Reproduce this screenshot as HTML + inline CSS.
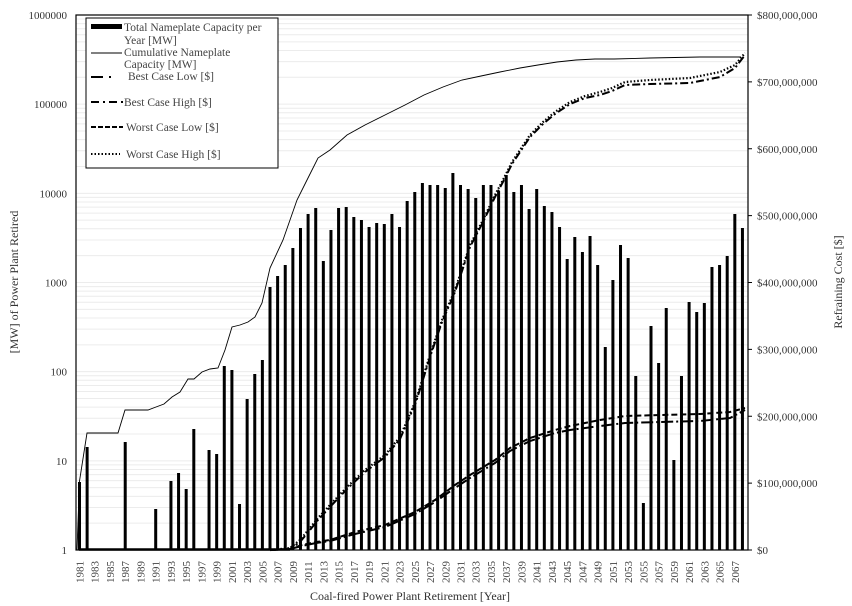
<!DOCTYPE html>
<html><head><meta charset="utf-8">
<style>
html,body{margin:0;padding:0;background:#fff;}
svg{display:block;font-family:"Liberation Serif",serif;}
</style></head>
<body>
<svg id="s" width="852" height="606" viewBox="0 0 852 606" xmlns="http://www.w3.org/2000/svg">
<g id="grid" stroke="#ececec" stroke-width="1"></g>
<g id="bars" fill="#000"></g>
<polyline fill="none" stroke="#000" stroke-width="0.9" points="77,550 79.5,481 87,433 118,433 125,410 148,410 156,407 164,404 172,397 180,392 188,379 194,379 202,372 210,369 218,368 225,350 232,327 240,325 248,322 255,317 262,303 270,268 283,240 297,200 307,180 318,158 330,150 347,135 365,125 385,115 405,105 424,95 443,87 462,80 481,76 500,72 520,68 538,65 557,62 576,60 595,59 614,59 650,58 700,57 741,57"/>
<line x1="79" y1="549.5" x2="290" y2="549.5" stroke="#000" stroke-width="2.5"/>
<polyline fill="none" stroke="#000" stroke-width="2.2" stroke-dasharray="1.5,2" points="270,550 290,548 300,540 310,528 318,518 330,505 347,487 365,470 385,455 400,437 416,400 430,355 442,320 455,290 470,245 483,220 495,195 504,178 512,162 520,150 530,135 543,122 555,112 570,102 585,96 600,92 612,88 625,82 650,80 690,78 720,72 735,65 745,53"/>
<polyline fill="none" stroke="#000" stroke-width="2" stroke-dasharray="8,3,2,3" points="270,550 290,549 300,542 310,530 318,520 330,507 347,489 365,472 385,457 400,439 416,402 430,357 442,322 455,292 470,247 483,222 495,197 504,180 512,164 520,152 530,137 543,124 555,114 570,104 585,98 600,95 612,91 625,85 650,84 690,83 720,77 735,68 745,55"/>
<polyline fill="none" stroke="#000" stroke-width="2" stroke-dasharray="6,3" points="270,550 290,549 302,545 316,542 330,540 355,532 385,525 415,512 435,500 455,485 470,475 495,460 510,448 530,438 555,430 570,426 600,420 625,416 660,415 700,414 730,412 745,408"/>
<polyline fill="none" stroke="#000" stroke-width="2" stroke-dasharray="12,3,2,3" points="270,550 290,549 302,546 316,543 330,541 355,534 385,527 415,514 435,502 455,488 470,478 495,463 510,451 530,441 555,433 570,430 600,426 625,423 660,422 700,421 730,418 745,410"/>
<rect x="76" y="15" width="672" height="535" fill="none" stroke="#000" stroke-width="1.2"/>
<g id="lt" font-size="11" fill="#333" text-anchor="end"></g>
<g id="rt" font-size="11" fill="#333"></g>
<g id="xt" font-size="11" fill="#444"></g>
<text x="410" y="600" font-size="12" fill="#333" text-anchor="middle">Coal-fired Power Plant Retirement [Year]</text>
<text transform="translate(18,282) rotate(-90)" font-size="12" fill="#333" text-anchor="middle">[MW] of Power Plant Retired</text>
<text transform="translate(842,282) rotate(-90)" font-size="12" fill="#333" text-anchor="middle">Refraining Cost [$]</text>
<rect x="86" y="18" width="192" height="150" fill="#fff" stroke="#000" stroke-width="1"/>
<g font-size="11.5" fill="#444">
<rect x="91" y="24" width="31" height="5" fill="#000"/>
<text x="124" y="31">Total Nameplate Capacity per</text>
<text x="124" y="44">Year [MW]</text>
<line x1="91" y1="53" x2="122" y2="53" stroke="#000" stroke-width="1"/>
<text x="124" y="56">Cumulative Nameplate</text>
<text x="124" y="68">Capacity [MW]</text>
<line x1="91" y1="77" x2="122" y2="77" stroke="#000" stroke-width="2" stroke-dasharray="12,6,2,20"/>
<text x="128" y="80">Best Case Low [$]</text>
<line x1="91" y1="102" x2="123" y2="102" stroke="#000" stroke-width="2" stroke-dasharray="8,4,2,4"/>
<text x="124" y="106">Best Case High [$]</text>
<line x1="91" y1="127" x2="123" y2="127" stroke="#000" stroke-width="2" stroke-dasharray="5,2"/>
<text x="126" y="131">Worst Case Low [$]</text>
<line x1="91" y1="154" x2="120" y2="154" stroke="#000" stroke-width="2" stroke-dasharray="1.5,2"/>
<text x="126" y="158">Worst Case High [$]</text>
</g>
</svg>
<script>
var NS="http://www.w3.org/2000/svg";
function el(p,t,a,txt){var e=document.createElementNS(NS,t);for(var k in a)e.setAttribute(k,a[k]);if(txt!==undefined)e.textContent=txt;document.getElementById(p).appendChild(e);return e;}
var tops={1981:482,1982:447,1987:442,1991:509,1993:481,1994:473,1995:489,1996:429,1998:450,1999:454,2000:366,2001:370,2002:504,2003:399,2004:374,2005:360,2006:287,2007:276,2008:265,2009:248,2010:228,2011:214,2012:208,2013:261,2014:230,2015:208,2016:207,2017:217,2018:220,2019:227,2020:223,2021:224,2022:214,2023:227,2024:201,2025:192,2026:183,2027:185,2028:185,2029:188,2030:173,2031:185,2032:189,2033:198,2034:185,2035:185,2036:191,2037:175,2038:192,2039:185,2040:209,2041:189,2042:206,2043:212,2044:227,2045:259,2046:237,2047:252,2048:236,2049:265,2050:347,2051:280,2052:245,2053:258,2054:376,2055:503,2056:326,2057:363,2058:308,2059:460,2060:376,2061:302,2062:312,2063:303,2064:267,2065:265,2066:256,2067:214,2068:228};
function X(y){return 79.5+(y-1981)*7.62;}
for(var y in tops){el("bars","rect",{x:X(+y)-1.5,y:tops[y],width:3,height:550-tops[y]});}
for(var d=0;d<6;d++){for(var m=2;m<=10;m++){var yy=550-(d+Math.log10(m))*89.17;el("grid","line",{x1:76,x2:748,y1:yy,y2:yy});}}
var L=["1","10","100","1000","10000","100000","1000000"];
for(var i=0;i<7;i++){el("lt","text",{x:67,y:554-i*89.17},L[i]);}
var R=["$0","$100,000,000","$200,000,000","$300,000,000","$400,000,000","$500,000,000","$600,000,000","$700,000,000","$800,000,000"];
for(var i=0;i<9;i++){var yy=550-i*66.875;el("rt","text",{x:757,y:yy+4},R[i]);el("grid","line",{x1:748,x2:752,y1:yy,y2:yy,stroke:"#000"});}
for(var y=1981;y<=2067;y+=2){var x=X(y)+4;el("xt","text",{transform:"translate("+x+",583) rotate(-90)"},String(y));}
</script>
</body></html>
